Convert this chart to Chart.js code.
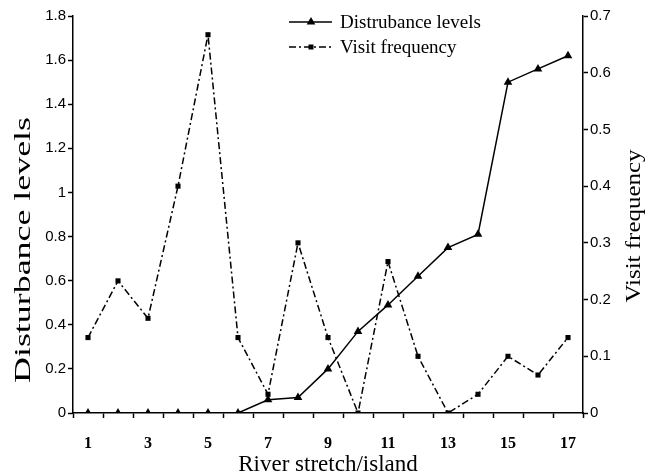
<!DOCTYPE html>
<html>
<head>
<meta charset="utf-8">
<script src="https://cdn.jsdelivr.net/npm/chart.js@4/dist/chart.umd.min.js"></script>
<style>
  html, body { margin: 0; padding: 0; background: #ffffff; }
  #wrap { width: 656px; height: 475px; position: relative; }
</style>
</head>
<body>
<div id="wrap"><canvas id="c" width="656" height="475"></canvas></div>
<script>
// ---- data ----
const categories = ['1','2','3','4','5','6','7','8','9','10','11','12','13','14','15','16','17'];
const xTickLabels = ['1','','3','','5','','7','','9','','11','','13','','15','','17'];
const disturbanceLevels = [0, 0, 0, 0, 0, 0, 0.06, 0.07, 0.2, 0.37, 0.49, 0.62, 0.75, 0.81, 1.5, 1.56, 1.62];
const visitFrequency = [0.133, 0.233, 0.167, 0.4, 0.667, 0.133, 0.033, 0.3, 0.133, 0, 0.267, 0.1, 0, 0.033, 0.1, 0.067, 0.133];
const seriesNames = ['Distrubance levels', 'Visit frequency'];
const leftAxisTitle = 'Disturbance levels';
const rightAxisTitle = 'Visit frequency';
const xAxisTitle = 'River stretch/island';
const leftAxisRange = { min: 0, max: 1.8, step: 0.2 };
const rightAxisRange = { min: 0, max: 0.7, step: 0.1 };

const DASHDOT = [7, 3, 2, 3];

const fmt = (v) => String(Math.round(v * 100) / 100);

const customDraw = {
  id: 'customDraw',
  afterDraw(chart) {
    const ctx = chart.ctx;
    const area = chart.chartArea;
    ctx.save();
    ctx.fillStyle = '#000';
    ctx.strokeStyle = '#000';

    // ---- axis titles ----
    ctx.save();
    ctx.font = '23px "Liberation Serif"';
    let w = ctx.measureText(leftAxisTitle).width;
    ctx.translate(24, 250);
    ctx.rotate(-Math.PI / 2);
    ctx.scale(266 / w, 1);
    ctx.textAlign = 'center';
    ctx.textBaseline = 'middle';
    ctx.fillText(leftAxisTitle, 0, 0);
    ctx.restore();

    ctx.save();
    ctx.font = '21px "Liberation Serif"';
    w = ctx.measureText(rightAxisTitle).width;
    ctx.translate(634, 226);
    ctx.rotate(-Math.PI / 2);
    ctx.scale(153 / w, 1);
    ctx.textAlign = 'center';
    ctx.textBaseline = 'middle';
    ctx.fillText(rightAxisTitle, 0, 0);
    ctx.restore();

    ctx.save();
    ctx.font = '23px "Liberation Serif"';
    ctx.textAlign = 'center';
    ctx.textBaseline = 'alphabetic';
    ctx.fillText(xAxisTitle, (area.left + area.right) / 2, 471);
    ctx.restore();

    // ---- legend ----
    const lx0 = 289, lx1 = 332, lxm = 311;
    const rows = [22, 47];
    ctx.font = '19px "Liberation Serif"';
    ctx.textAlign = 'left';
    ctx.textBaseline = 'middle';
    ctx.lineWidth = 1.5;
    ctx.setLineDash([]);
    ctx.beginPath();
    ctx.moveTo(lx0, rows[0]); ctx.lineTo(lx1, rows[0]); ctx.stroke();
    const r = 5;
    ctx.beginPath();
    ctx.moveTo(lxm, rows[0] - r);
    ctx.lineTo(lxm + r * 0.866, rows[0] + r * 0.5);
    ctx.lineTo(lxm - r * 0.866, rows[0] + r * 0.5);
    ctx.closePath();
    ctx.fill();
    ctx.fillText(chart.data.datasets[0].label, 340, rows[0] + 1);
    ctx.setLineDash(DASHDOT);
    ctx.beginPath();
    ctx.moveTo(lx0, rows[1]); ctx.lineTo(lx1, rows[1]); ctx.stroke();
    ctx.setLineDash([]);
    ctx.fillRect(lxm - 2.5, rows[1] - 2.5, 5, 5);
    ctx.fillText(chart.data.datasets[1].label, 340, rows[1] + 1);

    ctx.restore();
  }
};

new Chart(document.getElementById('c'), {
  type: 'line',
  data: {
    labels: categories,
    datasets: [
      {
        label: seriesNames[0],
        data: disturbanceLevels,
        yAxisID: 'y',
        borderColor: '#000',
        backgroundColor: '#000',
        borderWidth: 1.5,
        pointStyle: 'triangle',
        pointRadius: 5,
        pointBorderWidth: 0,
        pointBackgroundColor: '#000',
        tension: 0,
        fill: false
      },
      {
        label: seriesNames[1],
        data: visitFrequency,
        yAxisID: 'y1',
        borderColor: '#000',
        backgroundColor: '#000',
        borderWidth: 1.5,
        borderDash: DASHDOT,
        pointStyle: 'rect',
        pointRadius: 3.6,
        pointBorderWidth: 0,
        pointBackgroundColor: '#000',
        tension: 0,
        fill: false
      }
    ]
  },
  options: {
    responsive: false,
    animation: false,
    devicePixelRatio: 1,
    layout: { padding: { top: 16, left: 0, right: 0, bottom: 0 } },
    plugins: {
      legend: { display: false },
      tooltip: { enabled: false },
      title: { display: false }
    },
    scales: {
      x: {
        type: 'category',
        offset: true,
        grid: {
          display: true,
          offset: true,
          drawOnChartArea: false,
          drawTicks: true,
          tickLength: 5,
          tickWidth: 1.5,
          tickColor: '#000'
        },
        border: { display: true, color: '#000', width: 1.5 },
        ticks: {
          autoSkip: false,
          maxRotation: 0,
          minRotation: 0,
          color: '#000',
          padding: 16,
          font: { family: '"Liberation Serif"', size: 16, weight: 'bold' },
          callback: (v, i) => xTickLabels[i]
        },
        afterFit: (s) => { s.height = 62; }
      },
      y: {
        position: 'left',
        min: leftAxisRange.min,
        max: leftAxisRange.max,
        grid: {
          drawOnChartArea: false,
          drawTicks: true,
          tickLength: 5,
          tickWidth: 1.5,
          tickColor: '#000'
        },
        border: { display: true, color: '#000', width: 1.5 },
        ticks: {
          stepSize: leftAxisRange.step,
          color: '#000',
          padding: 2,
          font: { family: '"Liberation Sans"', size: 15 },
          callback: (v) => fmt(v)
        },
        afterFit: (s) => { s.width = 73; }
      },
      y1: {
        position: 'right',
        min: rightAxisRange.min,
        max: rightAxisRange.max,
        grid: {
          drawOnChartArea: false,
          drawTicks: true,
          tickLength: 5,
          tickWidth: 1.5,
          tickColor: '#000'
        },
        border: { display: true, color: '#000', width: 1.5 },
        ticks: {
          stepSize: rightAxisRange.step,
          color: '#000',
          padding: 2,
          font: { family: '"Liberation Sans"', size: 15 },
          callback: (v) => fmt(v)
        },
        afterFit: (s) => { s.width = 73; }
      }
    }
  },
  plugins: [customDraw]
});
</script>
</body>
</html>
